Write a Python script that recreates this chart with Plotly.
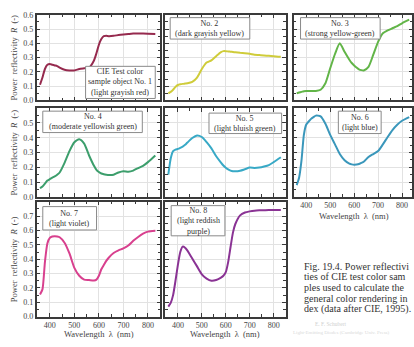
import plotly.graph_objects as go

# ---------------- data ----------------
wavelength = [360, 370, 380, 390, 400, 410, 420, 430, 440, 460, 480, 500, 520, 540, 560,
              580, 590, 600, 610, 620, 630, 640, 660, 680, 700, 720, 740, 760, 780, 800, 830]

tcs1 = [0.11, 0.16, 0.22, 0.25, 0.255, 0.25, 0.245, 0.24, 0.23, 0.215, 0.21, 0.21, 0.22, 0.225, 0.23,
        0.28, 0.33, 0.39, 0.43, 0.45, 0.452, 0.45, 0.452, 0.458, 0.462, 0.465, 0.468, 0.468, 0.468, 0.467, 0.465]
tcs2 = [0.05, 0.06, 0.075, 0.095, 0.108, 0.113, 0.116, 0.118, 0.12, 0.13, 0.16, 0.22, 0.265, 0.28, 0.31,
        0.338, 0.345, 0.345, 0.343, 0.341, 0.339, 0.337, 0.333, 0.33, 0.326, 0.32, 0.318, 0.315, 0.312, 0.31, 0.305]
tcs3 = [0.05, 0.055, 0.06, 0.065, 0.066, 0.066, 0.066, 0.066, 0.066, 0.075, 0.12, 0.225, 0.325, 0.40, 0.34,
        0.285, 0.262, 0.245, 0.23, 0.218, 0.212, 0.21, 0.235, 0.32, 0.41, 0.47, 0.49, 0.505, 0.52, 0.54, 0.565]
tcs4 = [0.058, 0.07, 0.09, 0.11, 0.12, 0.13, 0.138, 0.15, 0.165, 0.23, 0.31, 0.37, 0.39, 0.36, 0.28,
        0.21, 0.183, 0.168, 0.158, 0.153, 0.15, 0.148, 0.15, 0.165, 0.173, 0.17, 0.178, 0.195, 0.21, 0.235, 0.28]
tcs5 = [0.15, 0.26, 0.31, 0.32, 0.325, 0.332, 0.34, 0.352, 0.368, 0.398, 0.416, 0.405, 0.37, 0.328, 0.275,
        0.232, 0.212, 0.197, 0.186, 0.178, 0.174, 0.173, 0.177, 0.187, 0.198, 0.196, 0.198, 0.205, 0.215, 0.235, 0.268]
tcs6 = [0.08, 0.13, 0.245, 0.42, 0.49, 0.51, 0.528, 0.54, 0.55, 0.545, 0.495, 0.42, 0.355, 0.29, 0.248,
        0.225, 0.22, 0.218, 0.219, 0.222, 0.23, 0.238, 0.27, 0.29, 0.31, 0.355, 0.405, 0.452, 0.488, 0.515, 0.54]
tcs7 = [0.155, 0.19, 0.38, 0.51, 0.548, 0.558, 0.56, 0.558, 0.553, 0.515, 0.44, 0.34, 0.285, 0.258, 0.255,
        0.252, 0.258, 0.285, 0.33, 0.36, 0.388, 0.41, 0.443, 0.462, 0.475, 0.495, 0.528, 0.555, 0.578, 0.592, 0.598]
tcs8 = [0.07, 0.096, 0.15, 0.25, 0.36, 0.45, 0.488, 0.48, 0.46, 0.405, 0.35, 0.295, 0.265, 0.25, 0.255,
        0.272, 0.285, 0.31, 0.38, 0.485, 0.585, 0.645, 0.705, 0.725, 0.733, 0.738, 0.74, 0.741, 0.742, 0.742, 0.742]

series = [tcs1, tcs2, tcs3, tcs4, tcs5, tcs6, tcs7, tcs8]
colors = ["#962a4e", "#cfcc3a", "#62b548", "#3c9e6c", "#38a9c6", "#3a97bb", "#d8408e", "#8a3394"]
panel_labels = [
    "CIE Test color<br>sample object No. 1<br>(light grayish red)",
    "No. 2<br>(dark grayish yellow)",
    "No. 3<br>(strong yellow-green)",
    "No. 4<br>(moderate yellowish green)",
    "No. 5<br>(light bluish green)",
    "No. 6<br>(light blue)",
    "No. 7<br>(light violet)",
    "No. 8<br>(light reddish<br>purple)",
]
x_tick_labels = ["400", "500", "600", "700", "800"]
caption_lines = [
    "Fig. 19.4. Power reflectivi",
    "ties of CIE test color sam",
    "ples used to calculate the",
    "general color rendering in",
    "dex (data after CIE, 1995).",
]

# ---------------- layout geometry (pixels) ----------------
W, H = 414, 347
def fx(p): return p / W
def fy(p): return 1 - p / H

col_px = [(37, 161), (166, 287), (295, 416)]
row_px = [(11, 99), (107, 198), (203, 321)]
x_full = (347, 850)
row_ymax = [0.6, 0.6, 0.8]
row_label_max = [0.6, 0.5, 0.7]
box_px = [(86, 64, 156, 97), (171, 14, 251, 36), (302, 14, 382, 36),
          (43, 110, 143, 132), (210, 112, 283, 133), (340, 110, 383, 133),
          (43, 208, 97, 232), (172, 207, 226, 238)]

SERIF = "Liberation Serif, DejaVu Serif, serif"
FRAME = "#3a3a3a"

fig = go.Figure()
layout = dict(width=W, height=H, margin=dict(l=0, r=0, t=0, b=0),
              paper_bgcolor="white", plot_bgcolor="white", showlegend=False,
              font=dict(family=SERIF, size=8, color="#333"))
shapes, annotations = [], []

for i, vals in enumerate(series):
    r, c = divmod(i, 3)
    k = "" if i == 0 else str(i + 1)
    x0p, x1p = col_px[c]
    y0p, y1p = row_px[r]
    xr = list(x_full)
    x1p_c = min(x1p, W)
    if x1p > W:
        xr[1] = x_full[0] + (W - x0p) / (x1p - x0p) * (x_full[1] - x_full[0])
    fig.add_trace(go.Scatter(x=wavelength, y=vals, mode="lines", xaxis="x" + k, yaxis="y" + k,
                             line=dict(color=colors[i], width=2, shape="spline", smoothing=0.6),
                             hoverinfo="skip"))
    show_x = (i in (5, 6, 7))
    layout["xaxis" + k] = dict(
        domain=[fx(x0p), fx(x1p_c)], range=xr, anchor="y" + k,
        tickmode="array", tickvals=[400, 500, 600, 700, 800], ticktext=x_tick_labels,
        showticklabels=show_x, ticks="inside", ticklen=3.5, tickcolor=FRAME, tickwidth=1,
        minor=dict(tickmode="array", tickvals=[350, 450, 550, 650, 750, 850], ticks="inside", ticklen=2.5, tickcolor=FRAME, showgrid=False),
        showline=True, linecolor=FRAME, linewidth=1.8, mirror="ticks",
        showgrid=True, gridcolor="#e2e2e2", gridwidth=0.7, zeroline=False,
        tickfont=dict(family=SERIF, size=8, color="#444"))
    yt = [round(0.1 * j, 1) for j in range(int(round(row_ymax[r] * 10)) + 1)]
    ylab = [f"{v:.1f}" if v <= row_label_max[r] + 1e-9 else "" for v in yt]
    layout["yaxis" + k] = dict(
        domain=[fy(y1p), fy(y0p)], range=[0, row_ymax[r]], anchor="x" + k,
        tickmode="array", tickvals=yt, ticktext=ylab,
        showticklabels=(c == 0), ticks="inside", ticklen=3.5, tickcolor=FRAME, tickwidth=1,
        minor=dict(tickmode="array", tickvals=[round(0.05 + 0.1 * j, 2) for j in range(len(yt) - 1)],
                   ticks="inside", ticklen=2.5, tickcolor=FRAME, showgrid=False),
        showline=True, linecolor=FRAME, linewidth=1.8, mirror="ticks",
        showgrid=True, gridcolor="#e2e2e2", gridwidth=0.7, zeroline=False,
        tickfont=dict(family=SERIF, size=8, color="#444"))
    bx0, by0, bx1, by1 = box_px[i]
    shapes.append(dict(type="rect", xref="paper", yref="paper", x0=fx(bx0), x1=fx(bx1),
                       y0=fy(by1), y1=fy(by0), fillcolor="white",
                       line=dict(color="#8a8a8a", width=1), layer="above"))
    annotations.append(dict(xref="paper", yref="paper", x=fx((bx0 + bx1) / 2), y=fy((by0 + by1) / 2),
                            text=panel_labels[i], showarrow=False, xanchor="center", yanchor="middle",
                            font=dict(family=SERIF, size=8, color="#333")))

# y-axis titles
for r in range(3):
    y0p, y1p = row_px[r]
    annotations.append(dict(xref="paper", yref="paper", x=fx(14), y=fy((y0p + y1p) / 2),
                            text="Power  reflectivity  <i>R</i>  (-)", textangle=-90, showarrow=False,
                            xanchor="center", yanchor="middle",
                            font=dict(family=SERIF, size=8.5, color="#444")))
# x-axis titles
for (cx, cy) in [((37 + 161) / 2, 339), ((166 + 287) / 2, 339), ((295 + 416) / 2, 218)]:
    annotations.append(dict(xref="paper", yref="paper", x=fx(cx), y=fy(cy),
                            text="Wavelength  λ  (nm)", showarrow=False,
                            xanchor="center", yanchor="middle",
                            font=dict(family=SERIF, size=8.5, color="#444")))
# caption
for j, line in enumerate(caption_lines):
    annotations.append(dict(xref="paper", yref="paper", x=fx(303), y=fy(269 + 11 * j),
                            text=line, showarrow=False, xanchor="left", yanchor="middle",
                            font=dict(family=SERIF, size=10, color="#333")))
# faint watermark
annotations.append(dict(xref="paper", yref="paper", x=fx(333), y=fy(329), text="E. F. Schubert",
                        showarrow=False, xanchor="center", yanchor="middle",
                        font=dict(family=SERIF, size=5.5, color="#d0d0d0")))
annotations.append(dict(xref="paper", yref="paper", x=fx(292), y=fy(337),
                        text="Light-Emitting Diodes (Cambridge Univ. Press)",
                        showarrow=False, xanchor="left", yanchor="middle",
                        font=dict(family=SERIF, size=5, color="#dadada")))

layout["shapes"] = shapes
layout["annotations"] = annotations
fig.update_layout(**layout)
fig.write_html("out.html")
